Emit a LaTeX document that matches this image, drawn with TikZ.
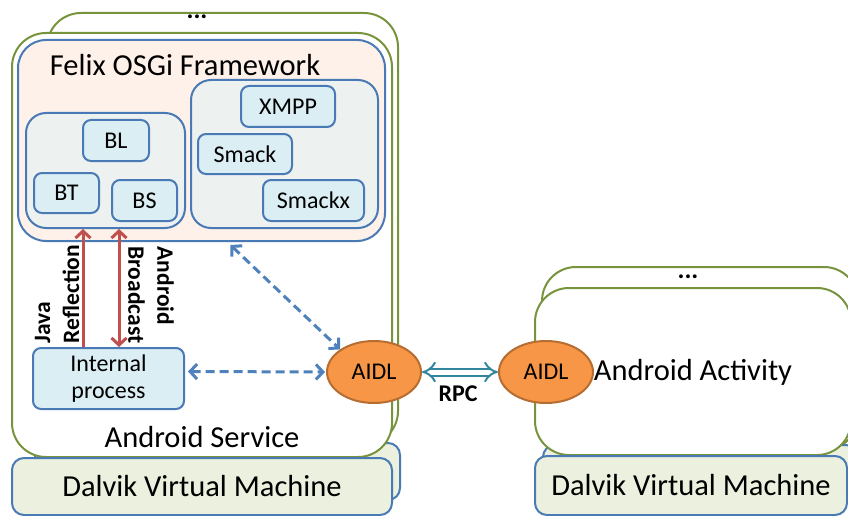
\documentclass[tikz,border=0pt]{standalone}
\usepackage{fontspec}
\setmainfont{Carlito}
\usetikzlibrary{shapes.geometric,arrows.meta,calc}

\definecolor{svcgreen}{HTML}{77933C}
\definecolor{boxblue}{HTML}{4A7AB5}
\definecolor{vmfill}{HTML}{EBF1DE}
\definecolor{fwfill}{HTML}{FDF1E9}
\definecolor{grpfill}{HTML}{EDF1F0}
\definecolor{bndfill}{HTML}{DBEEF4}
\definecolor{aidlfill}{HTML}{F79646}
\definecolor{aidlline}{HTML}{B66D31}
\definecolor{refred}{HTML}{C0504D}
\definecolor{dashblue}{HTML}{4F81BD}
\definecolor{rpcteal}{HTML}{31859C}

\newcommand\txtbig{\fontsize{30.5}{34}\selectfont}
\newcommand\txtmid{\fontsize{24}{28}\selectfont}

\tikzset{
  svc/.style={draw=svcgreen,line width=2pt,fill=white,rounded corners=34pt,inner sep=0pt},
  vm/.style={draw=boxblue,line width=2pt,fill=vmfill,rounded corners=12pt,inner sep=0pt,font=\txtbig},
  fw/.style={draw=boxblue,line width=2pt,fill=fwfill,rounded corners=28pt,inner sep=0pt},
  grp/.style={draw=boxblue,line width=2pt,fill=grpfill,rounded corners=20pt,inner sep=0pt},
  bnd/.style={draw=boxblue,line width=2pt,fill=bndfill,rounded corners=8pt,inner sep=0pt,font=\txtmid},
  aidl/.style={ellipse,draw=aidlline,line width=2pt,fill=aidlfill,inner sep=0pt,
    minimum width=94pt,minimum height=62pt,font=\txtmid},
  redarr/.style={draw=refred,line width=3pt},
  dasharr/.style={draw=dashblue,line width=3pt,dash pattern=on 9pt off 5pt,
    {Straight Barb[length=7pt,width=15pt]}-{Straight Barb[length=7pt,width=15pt]}},
  boldlbl/.style={font=\txtmid\bfseries,inner sep=0pt}
}

\begin{document}
\begin{tikzpicture}[x=1pt,y=-1pt]
\useasboundingbox (0,0) rectangle (848,516);

% left side: android service
\node[svc,minimum width=351pt,minimum height=432pt] (backsvcL) at (222.5,229) {};
\node[vm,minimum width=365pt,minimum height=57pt] (backvmL) at (217.5,471.5) {};
\node[svc,minimum width=380pt,minimum height=424pt] (svcL) at (202,245) {};
\node[vm,minimum width=380pt,minimum height=57pt] (vmL) at (202,486.5) {Dalvik Virtual Machine};
\node[boldlbl,font=\fontsize{26}{28}\selectfont\bfseries] (dotsL) at (197,17) {...};
\node[font=\txtbig] (svclbl) at (202,437) {Android Service};

% felix framework and bundles
\node[fw,minimum width=367pt,minimum height=201pt] (framework) at (201.5,140.5) {};
\node[font=\txtbig] (fwlbl) at (185,65) {Felix OSGi Framework};
\node[grp,minimum width=159pt,minimum height=115pt] (blgroup) at (105.5,170.5) {};
\node[grp,minimum width=187pt,minimum height=148pt] (xmppgroup) at (284.5,154) {};
\node[bnd,minimum width=66pt,minimum height=41pt] (bl) at (116,140.5) {BL};
\node[bnd,minimum width=65pt,minimum height=40pt] (bt) at (66.5,193) {BT};
\node[bnd,minimum width=65pt,minimum height=41pt] (bs) at (144.5,200.5) {BS};
\node[bnd,minimum width=94pt,minimum height=41pt] (xmpp) at (288,106.5) {XMPP};
\node[bnd,minimum width=94pt,minimum height=40pt] (smack) at (245,154) {Smack};
\node[bnd,minimum width=101pt,minimum height=41pt] (smackx) at (313.5,200.5) {Smackx};

\node[bnd,minimum width=151pt,minimum height=61pt,align=center,
  font=\fontsize{24}{27.5}\selectfont] (internal) at (108.5,378.5) {Internal\\process};

% right side: android activity
\node[svc,minimum width=316pt,minimum height=183pt] (backsvcR) at (700,358.5) {};
\node[vm,minimum width=315pt,minimum height=55pt] (backvmR) at (700.5,472.5) {};
\node[svc,minimum width=316pt,minimum height=167pt] (svcR) at (693,371.5) {};
\node[font=\txtbig] (actlbl) at (693,372) {Android Activity};
\node[vm,minimum width=312pt,minimum height=59pt] (vmR) at (691,485.5) {Dalvik Virtual Machine};
\node[boldlbl,font=\fontsize{26}{28}\selectfont\bfseries] (dotsR) at (688,277) {...};

\node[aidl] (aidlL) at (374,372) {AIDL};
\node[aidl] (aidlR) at (546,372) {AIDL};

% connectors
\draw[redarr,-{Straight Barb[length=7pt,width=15pt]}]
  ($(internal.north west)+(51,0)$) -- ($(blgroup.south west)+(58,0)$);
\draw[redarr,{Straight Barb[length=7pt,width=15pt]}-{Straight Barb[length=7pt,width=15pt]}]
  ($(blgroup.south west)+(94,0)$) -- ($(internal.north west)+(87,0)$);
\node[boldlbl,rotate=90,align=left,font=\fontsize{23.5}{29}\selectfont\bfseries] (javalbl) at (57,294) {Java\\Reflection};
\node[boldlbl,rotate=-90,align=left,font=\fontsize{23.5}{29}\selectfont\bfseries] (bcastlbl) at (151,295) {Android\\Broadcast};

\draw[dasharr] ($(framework.south)+(29,3)$) -- (aidlL.north west);
\draw[dasharr] ($(internal.east)+(3,-7)$) -- ($(aidlL.west)+(-1,0)$);

\draw[draw=rpcteal,line width=2pt,double=white,double distance=5pt,
  {Implies[scale=1.2]}-{Implies[scale=1.2]}] (aidlL.east) -- (aidlR.west);
\node[boldlbl] (rpclbl) at (458,394) {RPC};
\end{tikzpicture}
\end{document}
